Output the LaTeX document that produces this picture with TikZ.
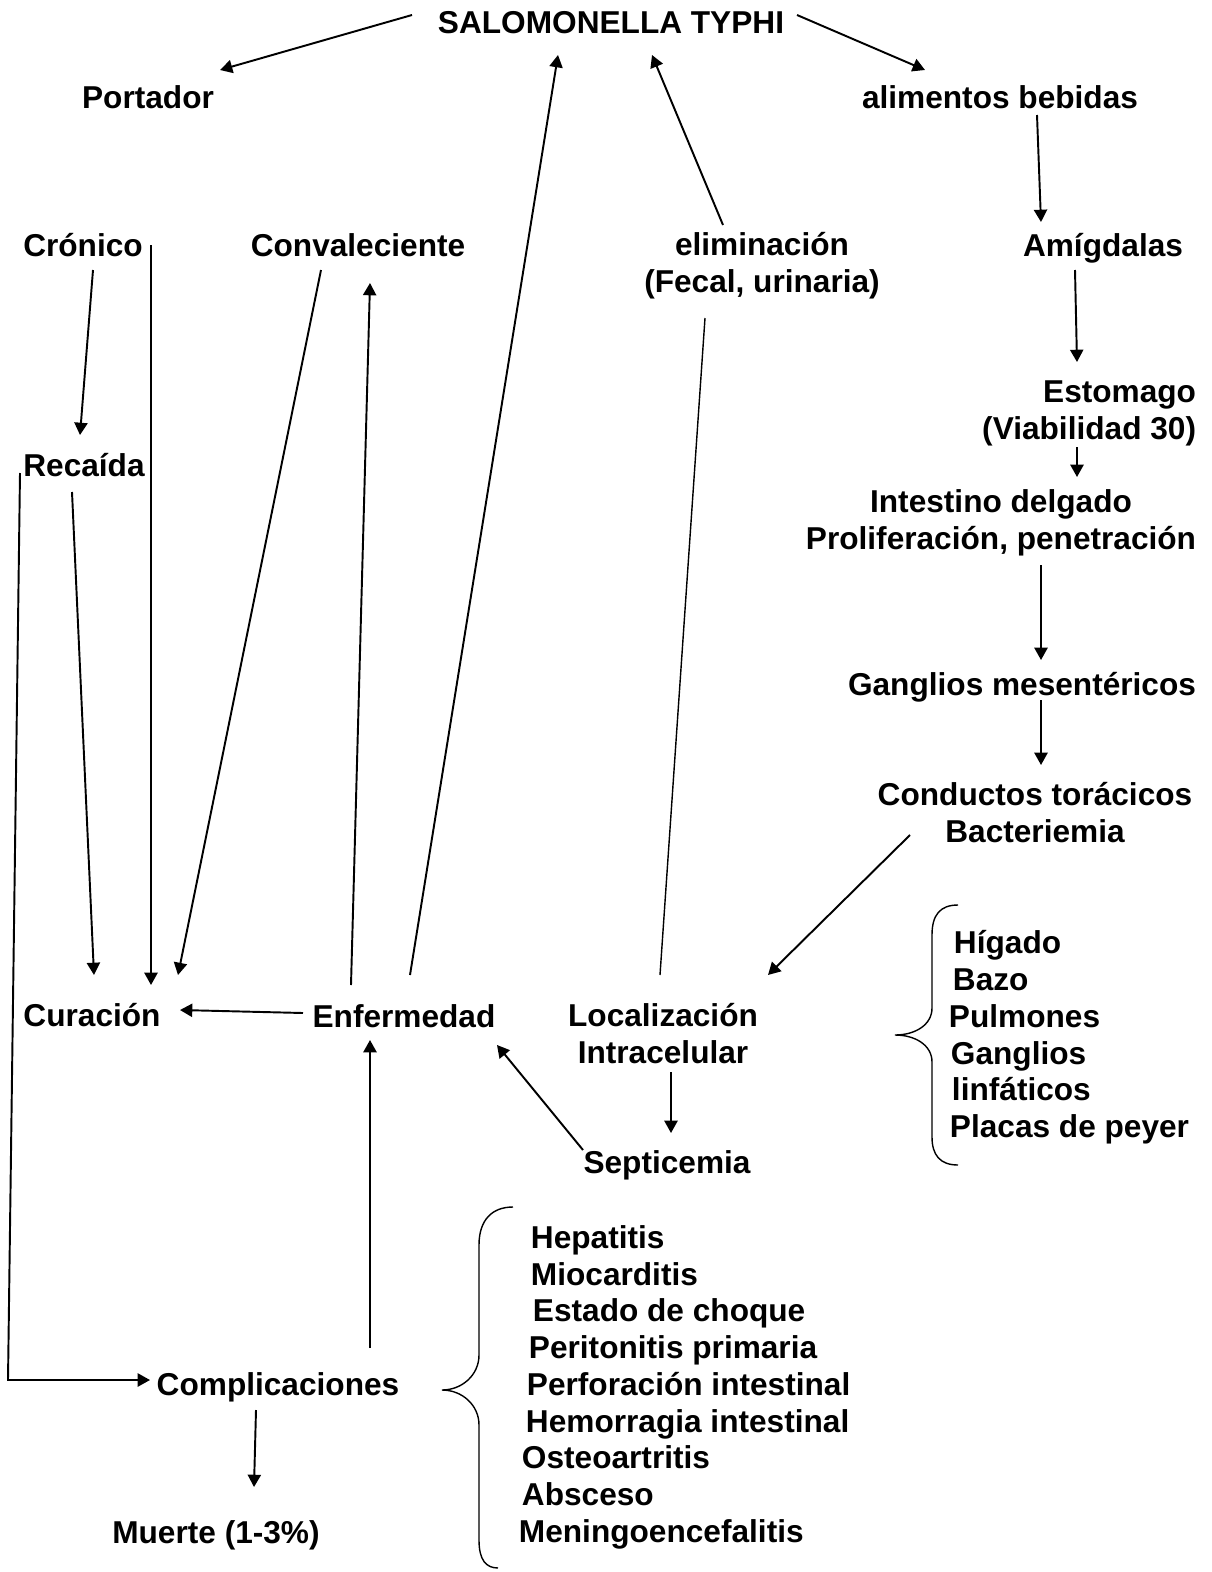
\documentclass[tikz,border=0pt]{standalone}
\usepackage{fontspec}
\setmainfont{Liberation Sans}
\usepackage{tikz}
\usetikzlibrary{arrows.meta,calc}

\begin{document}
\begin{tikzpicture}[->,>={Triangle[length=7pt,width=7.5pt]},x=0.02cm,y=-0.02cm,line width=1.1pt]
          \tikzstyle{every node}=[font=\bfseries\fontsize{18}{20.8}\selectfont,inner sep=0pt,anchor=base]
          \useasboundingbox (0,0) rectangle (1211,1572);
          % nodos
          \node (ST)   at (611,33)   {SALOMONELLA TYPHI};
          \node (Port) at (148,108)  {Portador};
          \node (Alim) at (1000,108) {alimentos bebidas};
          \node (Cron) at (83,256)   {Crónico};
          \node (Conv) at (358,256)  {Convaleciente};
          \node[align=center] (Elim) at (762,292) {eliminación\\(Fecal, urinaria)};
          \node (Amig) at (1103,256) {Amígdalas};
          \node[align=right,anchor=base east] (Est) at (1197,439) {Estomago\\(Viabilidad 30)};
          \node (Rec)  at (84,476)   {Recaída};
          \node[align=center] (Intd) at (1001,549) {Intestino delgado\\Proliferación, penetración};
          \node (Gang) at (1022,695) {Ganglios mesentéricos};
          \node[align=center] (Cond) at (1035,842) {Conductos torácicos\\Bacteriemia};
          \node (Cur)  at (92,1026)  {Curación};
          \node (Enf)  at (404,1027) {Enfermedad};
          \node[align=center] (Loc) at (663,1063) {Localización\\Intracelular};
          \node (Sep)  at (667,1173) {Septicemia};
          \node (Comp) at (278,1395) {Complicaciones};
          \node (Muer) at (216,1543) {Muerte (1-3\%)};
          % organos
          \foreach \x/\y/\t [count=\i] in {953/953/Hígado,952/990/Bazo,948/1027/Pulmones,950/1064/Ganglios,951/1100/linfáticos,949/1137/Placas de peyer}
            \node[anchor=base west] (Org\i) at (\x,\y) {\t};
          % complicaciones
          \foreach \x/\y/\t [count=\i] in {530/1248/Hepatitis,530/1285/Miocarditis,532/1321/Estado de choque,528/1358/Peritonitis primaria,526/1395/Perforación intestinal,525/1432/Hemorragia intestinal,521/1468/Osteoartritis,521/1505/Absceso,518/1542/Meningoencefalitis}
            \node[anchor=base west] (Cx\i) at (\x,\y) {\t};
          % flechas
          \draw ($(ST.base)+(-199,-18)$) -- ($(Port.base)+(72,-38)$);
          \draw ($(ST.base)+(186,-18)$) -- ($(Alim.base)+(-75,-38)$);
          \draw ($(Alim.base)+(37,7)$) -- ($(Amig.base)+(-62,-34)$);
          \draw ($(Amig.base)+(-28,14)$) -- ($(Est.base east)+(-120,-77)$);
          \draw ($(Est.base east)+(-120,8)$) -- ($(Intd.base)+(76,-72)$);
          \draw ($(Intd.base)+(40,16)$) -- ($(Gang.base)+(19,-35)$);
          \draw ($(Gang.base)+(19,5)$) -- ($(Cond.base)+(6,-77)$);
          \draw ($(Cond.base)+(-125,-7)$) -- ($(Loc.base)+(105,-88)$);
          \draw ($(Elim.base)+(-39,-67)$) -- ($(ST.base)+(41,22)$);
          \draw[-,line width=0.8pt] ($(Loc.base)+(-3,-88)$) -- ($(Elim.base)+(-57,26)$);
          \draw ($(Enf.base)+(6,-52)$) -- ($(ST.base)+(-53,22)$);
          \draw ($(Enf.base)+(-53,-42)$) -- ($(Conv.base)+(12,27)$);
          \draw ($(Conv.base)+(-37,14)$) -- ($(Cur.base)+(86,-51)$);
          \draw ($(Cron.base)+(68,-11)$) -- ($(Cur.base)+(59,-41)$);
          \draw ($(Cron.base)+(10,14)$) -- ($(Rec.base)+(-4,-41)$);
          \draw ($(Rec.base)+(-12,16)$) -- ($(Cur.base)+(2,-51)$);
          \draw ($(Enf.base)+(-101,-14)$) -- ($(Cur.base)+(88,-16)$);
          \draw ($(Sep.base)+(-84,-23)$) -- ($(Enf.base)+(93,18)$);
          \draw ($(Loc.base)+(8,9)$) -- ($(Sep.base)+(4,-40)$);
          \draw ($(Comp.base)+(92,-47)$) -- ($(Enf.base)+(-34,13)$);
          \draw ($(Rec.base)+(-64,-3)$) -- ++(-12,907) -- ($(Comp.base)+(-128,-15)$);
          \draw ($(Comp.base)+(-22,15)$) -- ($(Muer.base)+(38,-56)$);
          % llaves
          \draw[-,line width=0.8pt] (958,905) .. controls (940,905) and (932,915) .. (932,935) -- (932,1008)
            .. controls (932,1025) and (915,1035) .. (895,1035) .. controls (915,1035) and (932,1045) .. (932,1062)
            -- (932,1137) .. controls (932,1155) and (940,1165) .. (958,1165);
          \draw[-,line width=0.8pt] (513,1207) .. controls (492,1207) and (479,1220) .. (479,1245) -- (479,1355)
            .. controls (479,1375) and (462,1390) .. (442,1390) .. controls (462,1390) and (479,1405) .. (479,1425)
            -- (479,1540) .. controls (479,1560) and (486,1568) .. (498,1568);
\end{tikzpicture}
\end{document}
